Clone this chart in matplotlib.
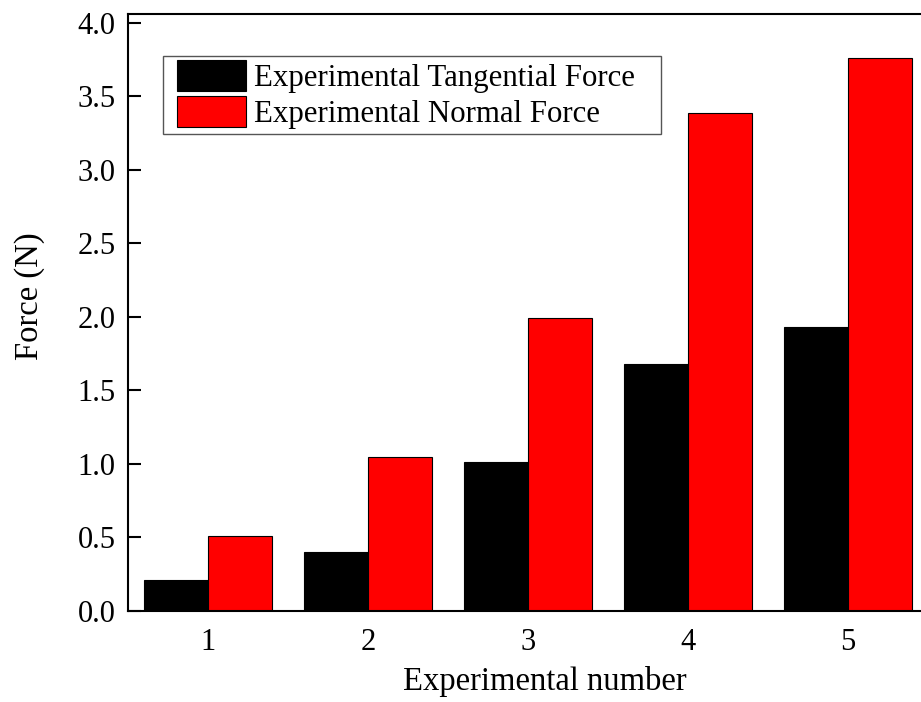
import numpy as np
import matplotlib
matplotlib.use("Agg")
from matplotlib import pyplot as plt
from matplotlib.patches import Rectangle
from matplotlib.transforms import IdentityTransform

# Measured forces for each experiment
experiments = [1, 2, 3, 4, 5]
tangential_force = [0.21, 0.40, 1.01, 1.68, 1.93]
normal_force = [0.51, 1.05, 1.99, 3.39, 3.76]

plt.rcParams["font.family"] = ["Liberation Serif", "DejaVu Serif"]

fig = plt.figure(figsize=(9.21, 7.02), dpi=100)
# NOTE: axes run a bit past the right edge of the figure on purpose
ax = fig.add_axes([128 / 921, 91 / 702, 800 / 921, 597 / 702])

x = np.array(experiments)
width = 0.4
ax.bar(x - width / 2, tangential_force, width, color="black", edgecolor="black",
       linewidth=0.8, label="Experimental Tangential Force")
ax.bar(x + width / 2, normal_force, width, color="#ff0000", edgecolor="black",
       linewidth=0.8, label="Experimental Normal Force")

ax.set_xlim(0.5, 5.5)
ax.set_ylim(0, 4.06)
ax.set_xticks(experiments)
ax.set_yticks(np.arange(0, 4.01, 0.5))
ax.set_yticklabels([f"{v:.1f}" for v in np.arange(0, 4.01, 0.5)])

for side in ["left", "bottom", "top", "right"]:
    ax.spines[side].set_linewidth(1.5)

ax.tick_params(axis="y", direction="in", length=9, width=1.5, labelsize=22, pad=9)
ax.tick_params(axis="x", direction="in", length=0, width=1.5, labelsize=22, pad=12)

ax.set_xlabel("Experimental number", fontsize=23.5)
ax.xaxis.set_label_coords(0.521, -0.092)
ax.set_ylabel("Force (N)", fontsize=23.5)
ax.yaxis.set_label_coords(-0.104, 0.528)

leg = ax.legend(loc="upper left", bbox_to_anchor=(0.056, 0.93), borderaxespad=0,
                fontsize=22.2, frameon=False,
                handlelength=2.23, handleheight=1.15, handletextpad=0.26,
                labelspacing=0.1, borderpad=0.15)
leg.set_zorder(5)

# Legend frame drawn by hand so it can have wider side margins than top/bottom
fig.canvas.draw()
bb = leg.get_window_extent()
pad_left, pad_right = 10, 21
frame = Rectangle((bb.x0 - pad_left, bb.y0), bb.width + pad_left + pad_right, bb.height,
                  transform=IdentityTransform(), facecolor="white", edgecolor="#555555",
                  linewidth=1.0, zorder=4.9, clip_on=False)
ax.add_artist(frame)

fig.savefig("out.png", dpi=100)
